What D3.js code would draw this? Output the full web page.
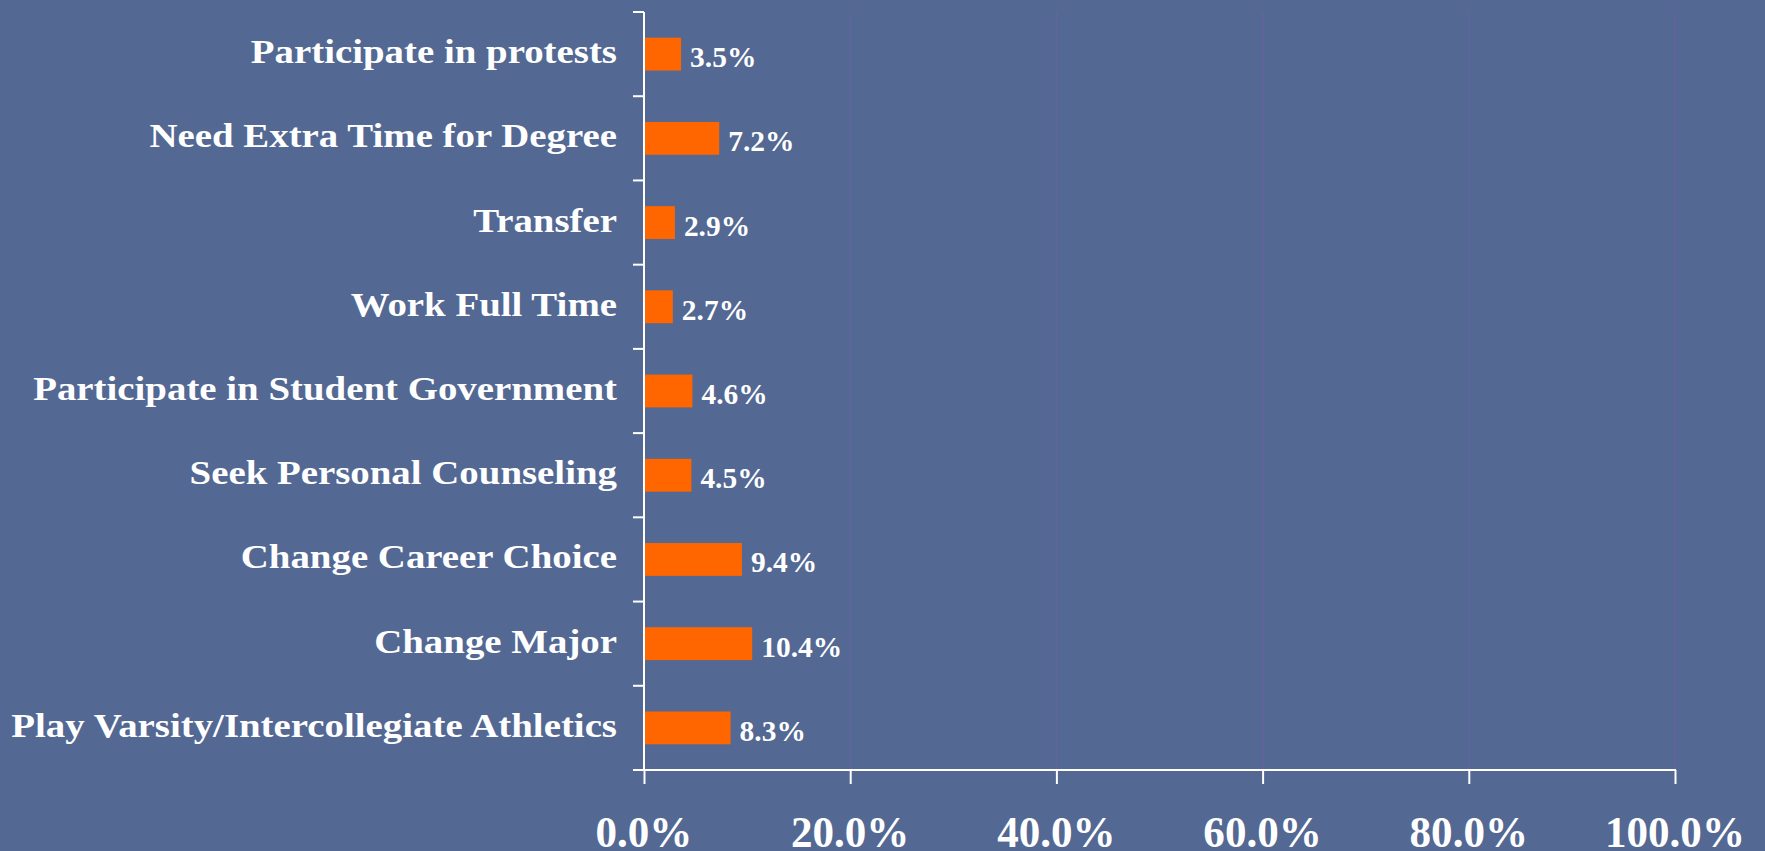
<!DOCTYPE html>
<html>
<head>
<meta charset="utf-8">
<script src="https://cdn.jsdelivr.net/npm/d3@7"></script>
<style>
  html, body { margin: 0; padding: 0; background: #536893; overflow: hidden; }
  svg { display: block; }
  text { font-family: "Liberation Serif", "Times New Roman", serif; font-weight: bold; fill: #ffffff; }
</style>
</head>
<body>
<svg id="chart" width="1765" height="851"></svg>
<script>
// Share of students who expect to ... (top to bottom)
const categories = [
  "Participate in protests",
  "Need Extra Time for Degree",
  "Transfer",
  "Work Full Time",
  "Participate in Student Government",
  "Seek Personal Counseling",
  "Change Career Choice",
  "Change Major",
  "Play Varsity/Intercollegiate Athletics"
];
const values = [3.5, 7.2, 2.9, 2.7, 4.6, 4.5, 9.4, 10.4, 8.3];
const xTicks = [0, 20, 40, 60, 80, 100];

const W = 1765, H = 851;
const plotLeft = 644, plotRight = 1675, plotTop = 12, plotBottom = 770;

const svg = d3.select("#chart");
svg.append("rect").attr("width", W).attr("height", H).attr("fill", "#536893");

const x = d3.scaleLinear().domain([0, 100]).range([plotLeft, plotRight]);
const y = d3.scaleBand().domain(categories).range([plotTop, plotBottom])
  .paddingInner(0.61).paddingOuter(0.305);

const fmt = v => v.toFixed(1) + "%";

// faint vertical gridlines
svg.append("g").selectAll("line")
  .data(xTicks.filter(t => t > 0))
  .join("line")
  .attr("x1", d => x(d)).attr("x2", d => x(d))
  .attr("y1", plotTop).attr("y2", plotBottom)
  .attr("stroke", "#6a62a0").attr("stroke-width", 1.2);

// bars
svg.append("g").selectAll("rect")
  .data(values)
  .join("rect")
  .attr("x", x(0) + 1)
  .attr("y", (d, i) => y(categories[i]))
  .attr("width", d => x(d) - x(0))
  .attr("height", y.bandwidth())
  .attr("fill", "#ff6600");

// y axis: line with ticks on category boundaries
const yAxis = svg.append("g");
yAxis.append("line")
  .attr("x1", plotLeft).attr("x2", plotLeft).attr("y1", plotTop).attr("y2", plotBottom)
  .attr("stroke", "#ffffff").attr("stroke-width", 2);
const step = y.step();
yAxis.selectAll("line.tick")
  .data(d3.range(categories.length + 1))
  .join("line").attr("class", "tick")
  .attr("x1", plotLeft - 11).attr("x2", plotLeft)
  .attr("y1", i => plotTop + i * step).attr("y2", i => plotTop + i * step)
  .attr("stroke", "#ffffff").attr("stroke-width", 2);

// x axis
const xAxis = svg.append("g").attr("transform", `translate(0,${plotBottom})`)
  .call(d3.axisBottom(x).tickValues(xTicks).tickSize(14).tickFormat(""));
xAxis.select(".domain").attr("stroke", "#ffffff").attr("stroke-width", 2)
  .attr("d", `M${plotLeft - 11},0H${plotRight + 1}`);
xAxis.selectAll(".tick line").attr("stroke", "#ffffff").attr("stroke-width", 2);

// helper: squeeze text horizontally so the widest item hits a target width
function fit(sel, targetWidth, anchorFn) {
  let maxW = 0;
  sel.each(function () { maxW = Math.max(maxW, this.getComputedTextLength()); });
  const sx = targetWidth / maxW;
  sel.attr("transform", function (d, i) {
    const ax = anchorFn(d, i);
    return `translate(${ax},0) scale(${sx},1) translate(${-ax},0)`;
  });
}

// category labels
const catLabels = svg.append("g").selectAll("text")
  .data(categories)
  .join("text")
  .attr("x", 617)
  .attr("y", d => y(d) + y.bandwidth() / 2 + 9)
  .attr("text-anchor", "end")
  .attr("font-size", 34)
  .text(d => d);
fit(catLabels, 606, () => 617);

// value labels
const valLabels = svg.append("g").selectAll("text")
  .data(values)
  .join("text")
  .attr("x", d => x(d) + 10)
  .attr("y", (d, i) => y(categories[i]) + y.bandwidth() / 2 + 13)
  .attr("font-size", 29)
  .text(d => fmt(d));
fit(valLabels, 81, d => x(d) + 10);

// x tick labels
const tickLabels = svg.append("g").selectAll("text")
  .data(xTicks)
  .join("text")
  .attr("x", d => x(d))
  .attr("y", 847)
  .attr("text-anchor", "middle")
  .attr("font-size", 44)
  .text(d => fmt(d));
fit(tickLabels, 140, d => x(d));
</script>
</body>
</html>
